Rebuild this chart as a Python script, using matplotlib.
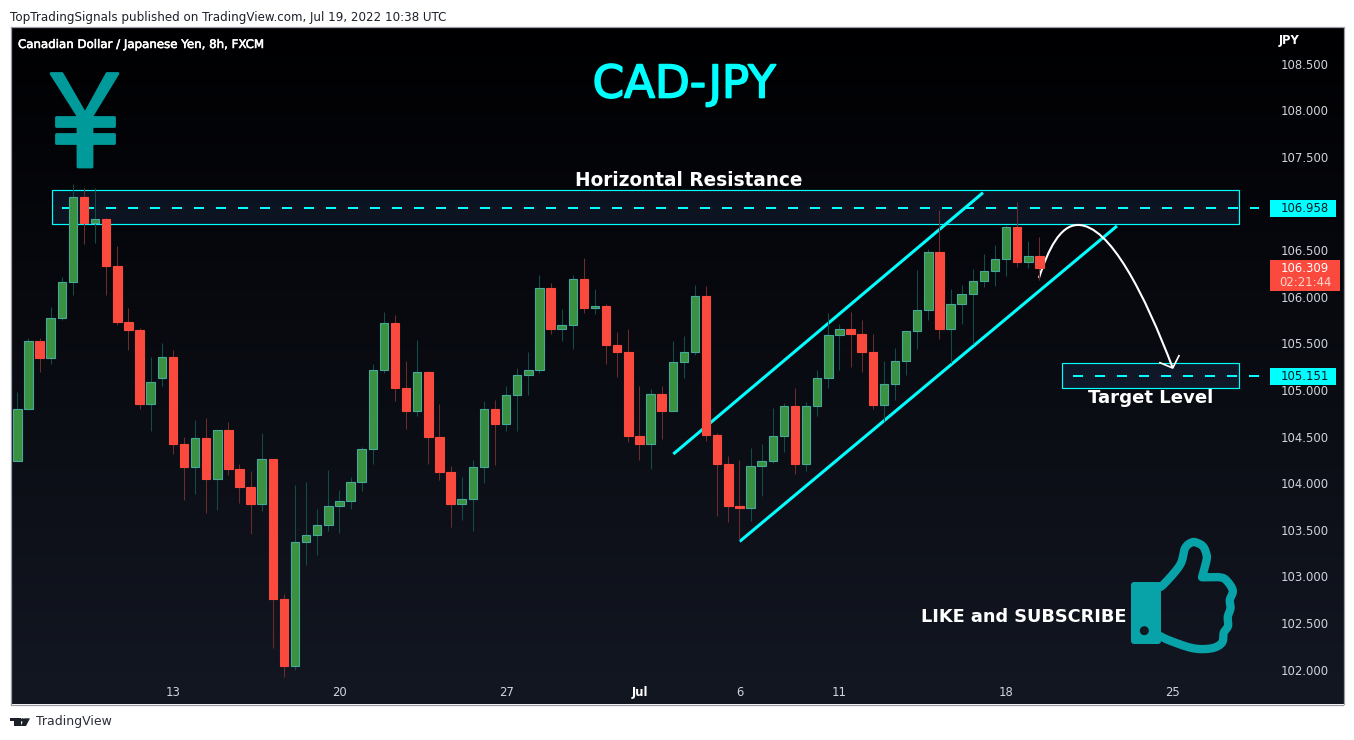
import numpy as np
import matplotlib
matplotlib.use("Agg")
import matplotlib.pyplot as plt
import matplotlib.patheffects as pe
from matplotlib.path import Path
from matplotlib.patches import PathPatch, Polygon, Rectangle, FancyBboxPatch, Circle
from matplotlib.transforms import Affine2D

# 8h candles, the first one is cut off by the left edge
opens = [103.852, 104.239, 104.793, 105.523, 105.347, 105.770, 106.156, 107.068, 106.795, 106.832, 106.334,
         105.733, 105.647, 104.853, 105.132, 105.351, 104.424, 104.177, 104.482, 104.049, 104.568,
         104.156, 103.963, 103.780, 104.257, 102.761, 102.042, 103.366, 103.441, 103.549, 103.752,
         103.806, 104.010, 104.364, 105.212, 105.716, 105.025, 104.778, 105.190, 104.499, 104.124,
         103.780, 103.828, 104.171, 104.793, 104.639, 104.943, 105.158, 105.212, 106.092, 105.658,
         105.695, 106.188, 105.883, 105.898, 105.486, 105.411, 104.510, 104.424, 104.954, 104.778,
         105.298, 105.405, 106.006, 104.521, 104.209, 103.759, 103.737, 104.182, 104.235, 104.503,
         104.825, 104.209, 104.825, 105.126, 105.587, 105.652, 105.604, 105.411, 104.843, 105.061,
         105.308, 105.630, 105.855, 106.478, 105.658, 105.920, 106.027, 106.167, 106.274, 106.403,
         106.746, 106.377, 106.435]
highs = [104.249, 104.979, 105.555, 105.558, 105.891, 106.210, 107.211, 107.165, 107.165, 106.843, 106.545,
         105.877, 105.662, 105.354, 105.505, 105.429, 104.496, 104.678, 104.700, 104.568, 104.657,
         104.203, 104.131, 104.539, 104.257, 102.808, 103.981, 104.013, 103.723, 104.142, 103.927,
         104.064, 104.389, 105.276, 105.837, 105.805, 105.311, 105.537, 105.204, 104.850, 104.185,
         104.064, 104.249, 104.882, 104.893, 105.043, 105.236, 105.408, 106.234, 106.148, 105.866,
         106.234, 106.417, 106.081, 105.923, 105.623, 105.655, 105.043, 105.008, 105.043, 105.526,
         105.580, 106.127, 106.116, 104.536, 104.289, 104.246, 104.375, 104.418, 104.804, 104.858,
         105.019, 104.868, 105.212, 105.823, 105.705, 105.834, 105.748, 105.598, 105.308, 105.448,
         105.630, 106.288, 106.510, 106.932, 106.081, 106.124, 106.295, 106.456, 106.553, 106.771,
         107.018, 106.596, 106.639]
lows = [103.852, 104.239, 104.793, 105.197, 105.282, 105.755, 106.023, 106.570, 106.581, 106.023, 105.701,
        105.433, 104.800, 104.560, 105.046, 104.317, 103.823, 103.888, 103.684, 103.716, 104.091,
        103.791, 103.458, 103.705, 102.235, 101.924, 101.999, 103.126, 103.233, 103.491, 103.469,
        103.727, 103.920, 104.209, 105.186, 104.885, 104.585, 104.725, 104.209, 104.038, 103.534,
        103.609, 103.487, 104.006, 104.199, 104.564, 104.564, 104.950, 105.186, 105.604, 105.529,
        105.443, 105.830, 105.819, 105.282, 105.143, 104.446, 104.252, 104.156, 104.478, 104.778,
        105.132, 105.379, 104.456, 103.652, 103.587, 103.391, 103.598, 103.866, 104.214, 104.338,
        104.102, 104.134, 104.725, 105.025, 105.218, 105.250, 105.197, 104.800, 104.671, 104.896,
        105.164, 105.443, 105.755, 105.551, 105.287, 105.712, 105.494, 106.109, 106.119, 106.227,
        106.323, 106.313, 106.184]
closes = [104.249, 104.793, 105.523, 105.347, 105.770, 106.156, 107.068, 106.795, 106.832, 106.334, 105.733,
          105.647, 104.853, 105.083, 105.351, 104.424, 104.177, 104.482, 104.049, 104.568, 104.156,
          103.963, 103.780, 104.257, 102.761, 102.042, 103.366, 103.441, 103.549, 103.752, 103.806,
          104.010, 104.364, 105.212, 105.716, 105.025, 104.778, 105.190, 104.499, 104.124, 103.780,
          103.828, 104.171, 104.793, 104.639, 104.943, 105.158, 105.212, 106.092, 105.658, 105.695,
          106.188, 105.883, 105.898, 105.486, 105.411, 104.510, 104.424, 104.954, 104.778, 105.298,
          105.405, 106.006, 104.521, 104.209, 103.759, 103.737, 104.182, 104.235, 104.503, 104.825,
          104.209, 104.825, 105.126, 105.587, 105.652, 105.604, 105.411, 104.843, 105.061, 105.308,
          105.630, 105.855, 106.478, 105.658, 105.920, 106.027, 106.167, 106.274, 106.403, 106.746,
          106.377, 106.435, 106.309]

date_pos = [14, 29, 44, 56, 65, 74, 89, 104]
date_labels = ["13", "20", "27", "Jul", "6", "11", "18", "25"]
price_ticks = [102.0, 102.5, 103.0, 103.5, 104.0, 104.5, 105.0, 105.5, 106.0, 106.5, 107.0, 107.5, 108.0, 108.5]

# drawings on the chart, in bars / price
upper_channel_x = [59.05, 86.92]
upper_channel_y = [104.313, 107.117]
lower_channel_x = [65.02, 98.98]
lower_channel_y = [103.375, 106.760]
resistance_box = [3.08, 110.0, 106.778, 107.143]
target_box = [94.06, 110.0, 105.018, 105.287]
resistance_dash_x = [4.0, 111.8]
resistance_level = 106.958
target_dash_x = [95.0, 111.8]
target_level = 105.151
arrow_x = [91.96, 92.77, 93.85, 95.47, 98.35, 101.5, 104.0]
arrow_y = [106.202, 106.503, 106.771, 106.771, 106.771, 106.020, 105.236]
arrow_head_x = [102.85, 104.0, 104.56]
arrow_head_y = [105.293, 105.236, 105.368]

CYAN = "#00ffff"
GREEN = "#3a913f"
GREEN_EDGE = "#45a89b"
GREEN_WICK = "#124c48"
RED = "#f94a3d"
RED_WICK = "#6e2b2b"
TEAL = "#07a3a8"
YEN = "#019a9a"


def smooth(pts, n=8):
    # catmull-rom through the outline points
    pts = np.array([pts[0]] + list(pts) + [pts[-1]], dtype=float)
    out = []
    for i in range(1, len(pts) - 2):
        p0, p1, p2, p3 = pts[i - 1], pts[i], pts[i + 1], pts[i + 2]
        for t in np.linspace(0, 1, n, endpoint=False):
            out.append(0.5 * (2 * p1 + (p2 - p0) * t + (2 * p0 - 5 * p1 + 4 * p2 - p3) * t ** 2
                              + (3 * p1 - p0 - 3 * p2 + p3) * t ** 3))
    out.append(pts[-2])
    return np.array(out)


fig = plt.figure(figsize=(13.54, 7.40), dpi=100, facecolor="white")
ax = fig.add_axes([10.5 / 1354, 1 - 704.5 / 740, 1333 / 1354, 677.5 / 740])

# pixel coordinates for the icons and captions, origin top left
px = Affine2D().scale(1 / 1354, -1 / 740).translate(0, 1) + fig.transFigure

top_col = np.array([0, 0, 2]) / 255
bottom_col = np.array([19, 23, 34]) / 255
grad = np.linspace(0, 1, 256)[:, None, None] * (bottom_col - top_col)[None, None, :] + top_col
ax.imshow(grad, extent=(0, 1, 0, 1), transform=ax.transAxes, aspect="auto", zorder=0)

for box in [resistance_box, target_box]:
    ax.add_patch(Rectangle((box[0], box[2]), box[1] - box[0], box[3] - box[2], facecolor=(55 / 255, 105 / 255, 175 / 255, 0.15),
                           edgecolor=CYAN, linewidth=0.85, zorder=1))

ax.plot(resistance_dash_x, [resistance_level] * 2, color=CYAN, lw=1.44, linestyle=(0, (5, 6)), zorder=1.2)
ax.plot(target_dash_x, [target_level] * 2, color=CYAN, lw=1.44, linestyle=(0, (5, 6)), zorder=1.2)
ax.plot(upper_channel_x, upper_channel_y, color=CYAN, lw=2.2, zorder=1.3, solid_capstyle="butt")
ax.plot(lower_channel_x, lower_channel_y, color=CYAN, lw=2.2, zorder=1.3, solid_capstyle="butt")

arrow_verts = list(zip(arrow_x, arrow_y))
arrow_codes = [Path.MOVETO] + [Path.CURVE4] * 6
ax.add_patch(PathPatch(Path(arrow_verts, arrow_codes), facecolor="none", edgecolor="white", lw=1.5, zorder=1.4))
ax.plot(arrow_head_x, arrow_head_y, color="white", lw=1.2, zorder=1.4)

# candles
o = np.array(opens)
h = np.array(highs)
l = np.array(lows)
c = np.array(closes)
bars = np.arange(len(o)) - 1
up = c >= o
ax.vlines(bars[up], l[up], h[up], color=GREEN_WICK, lw=0.75, zorder=2, snap=True)
ax.vlines(bars[~up], l[~up], h[~up], color=RED_WICK, lw=0.75, zorder=2, snap=True)
ax.bar(bars[up], (c - o)[up], bottom=o[up], width=0.76, facecolor=GREEN, edgecolor=GREEN_EDGE, linewidth=0.8, zorder=3)
ax.bar(bars[~up], (c - o)[~up], bottom=o[~up], width=0.76, facecolor=RED, edgecolor=RED, linewidth=0.8, zorder=3)

ax.set_xlim((10.5 - 17.3) / 11.11, (1343.5 - 17.3) / 11.11)
ax.set_ylim(101.6255, 108.895)

ax.yaxis.tick_right()
ax.set_yticks(price_ticks)
ax.set_yticklabels(["%.3f" % p for p in price_ticks])
ax.set_xticks(date_pos)
ax.set_xticklabels(date_labels)
ax.tick_params(axis="y", length=0, pad=-45, labelsize=8.4, labelcolor="#d1d4dc")
ax.tick_params(axis="x", length=0, pad=-13.5, labelsize=8.4, labelcolor="#d1d4dc")
ax.get_xticklabels()[3].set_fontweight("bold")
ax.get_xticklabels()[3].set_color("white")
for s in ax.spines.values():
    s.set_color("#9a9da6")
    s.set_linewidth(0.9)

# price flags
for y0, y1, txt in [(200, 217, "106.958"), (368, 385, "105.151")]:
    fig.add_artist(Rectangle((1270, y0), 66, y1 - y0, transform=px, facecolor=CYAN, edgecolor="none", zorder=6))
    fig.text(1305, (y0 + y1) / 2, txt, transform=px, color="#131722", fontsize=8.4, ha="center", va="center", zorder=7)
fig.add_artist(Rectangle((1270, 260), 70, 31, transform=px, facecolor=RED, edgecolor="none", zorder=6))
fig.text(1305, 268, "106.309", transform=px, color="white", fontsize=8.4, ha="center", va="center", zorder=7)
fig.text(1305, 283, "02:21:44", transform=px, color="#ffd5d0", fontsize=8.4, ha="center", va="center", zorder=7)

# captions
fig.text(10, 17, "TopTradingSignals published on TradingView.com, Jul 19, 2022 10:38 UTC", transform=px,
         color="#1c2029", fontsize=8.53, va="center")
head = fig.text(18, 44.5, "Canadian Dollar / Japanese Yen, 8h, FXCM", transform=px, color="white", fontsize=8.5, va="center")
head.set_path_effects([pe.withStroke(linewidth=0.4, foreground="white")])
fig.text(1279, 40.5, "JPY", transform=px, color="white", fontsize=8.3, fontweight="bold", va="center")
title = fig.text(684, 85, "CAD-JPY", transform=px, color=CYAN, fontsize=32.5, ha="center", va="center")
title.set_path_effects([pe.withStroke(linewidth=1.2, foreground=CYAN)])
fig.text(689, 180, "Horizontal Resistance", transform=px, color="white", fontsize=13.35, fontweight="bold", ha="center", va="center")
fig.text(1151, 398, "Target Level", transform=px, color="white", fontsize=13.1, fontweight="bold", ha="center", va="center")
fig.text(1023.5, 617, "LIKE and SUBSCRIBE", transform=px, color="white", fontsize=12.8, fontweight="bold", ha="center", va="center")

# yen icon
yen_pts = [(51, 73.5), (62, 73.5), (85, 113.5), (107, 73.5), (118, 73.5), (92, 116), (92, 167), (78, 167), (78, 116)]
fig.add_artist(Polygon(yen_pts, closed=True, transform=px, facecolor=YEN, edgecolor=YEN, lw=2, joinstyle="round", zorder=5))
for y0, y1 in [(116.5, 125.5), (134, 143)]:
    fig.add_artist(Polygon([(55.5, y0), (114, y0), (114, y1), (55.5, y1)], closed=True, transform=px, facecolor=YEN,
                           edgecolor=YEN, lw=2, joinstyle="round", zorder=5))

# thumb icon, two runs so the corner under the thumb stays sharp
thumb_top = [(1158, 586.7), (1163, 585), (1180, 565), (1185, 548.3), (1192, 542.3), (1198.3, 543.3), (1203.3, 546.7),
             (1206, 552.7), (1206.7, 559.3), (1202, 577.3)]
thumb_side = [(1202, 577.3), (1220, 577.3), (1227, 581), (1232.8, 590.7), (1229.8, 600), (1230.5, 608.3), (1227.8, 616.7),
              (1228, 626), (1223.8, 632.7), (1222, 642.7), (1211.7, 648.3), (1193.3, 648.3), (1170, 640.7), (1158, 635)]
thumb_line = np.vstack([smooth(thumb_top), smooth(thumb_side)])
fig.add_artist(plt.Line2D(thumb_line[:, 0], thumb_line[:, 1], transform=px, color=TEAL, lw=6,
                          solid_joinstyle="round", solid_capstyle="butt", zorder=5))
fig.add_artist(FancyBboxPatch((1134, 585), 24, 56, boxstyle="round,pad=3", transform=px, facecolor=TEAL, edgecolor="none", zorder=5))
fig.add_artist(Circle((1144.3, 630.7), 4.5, transform=px, facecolor="#131722", edgecolor="none", zorder=6))

# TradingView logo
LOGO = "#1c2029"
fig.add_artist(Polygon([(10.3, 718.3), (20.7, 718.3), (20.7, 726), (14.3, 726), (14.3, 720.8), (10.3, 720.8)], closed=True,
                       transform=px, facecolor=LOGO, edgecolor="none", zorder=5))
fig.add_artist(Circle((22.6, 720), 1.8, transform=px, facecolor=LOGO, edgecolor="none", zorder=5))
fig.add_artist(Polygon([(24.3, 718.3), (30, 718.3), (26, 726), (20.7, 726)], closed=True, transform=px, facecolor=LOGO,
                       edgecolor="none", zorder=5))
fig.text(36, 722, "TradingView", transform=px, color="#2a2e39", fontsize=9, va="center")

fig.savefig("out.png", dpi=100, facecolor="white")
